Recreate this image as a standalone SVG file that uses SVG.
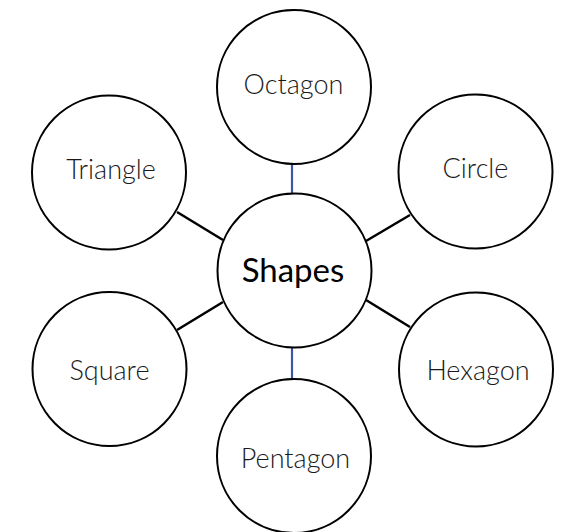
<svg xmlns="http://www.w3.org/2000/svg" width="566" height="532" viewBox="0 0 566 532">
<style>
.n{fill:#fff;stroke:#000;stroke-width:2}
.t{font-family:Lato,"Open Sans",sans-serif;font-weight:300;font-size:27px;fill:#1a1a1a;text-anchor:middle}
.m{font-family:Lato,"Open Sans",sans-serif;font-weight:400;font-size:33px;fill:#000;text-anchor:middle}
.c{stroke:#000;stroke-width:2.5}
.b{stroke:#3a56a5;stroke-width:2.2}
</style>
<rect width="566" height="532" fill="#fff"/>
<g id="connectors">
<line class="b" x1="292" y1="164" x2="292" y2="194"/>
<line class="b" x1="292" y1="347" x2="292" y2="379"/>
<line class="c" x1="177" y1="212" x2="223" y2="240"/>
<line class="c" x1="410" y1="215" x2="366" y2="241"/>
<line class="c" x1="177" y1="330" x2="223" y2="302"/>
<line class="c" x1="410" y1="327" x2="366" y2="300"/>
</g>
<g id="octagon"><circle class="n" cx="294" cy="87" r="77"/><text class="t" x="293.5" y="94">Octagon</text></g>
<g id="triangle"><circle class="n" cx="109" cy="172.5" r="77"/><text class="t" x="111" y="179">Triangle</text></g>
<g id="circle"><circle class="n" cx="475.5" cy="171.5" r="77"/><text class="t" x="475.5" y="178">Circle</text></g>
<g id="shapes"><circle class="n" cx="294.5" cy="270.5" r="77"/><text class="m" x="293" y="282">Shapes</text></g>
<g id="square"><circle class="n" cx="109.5" cy="369" r="77"/><text class="t" x="109.5" y="380">Square</text></g>
<g id="hexagon"><circle class="n" cx="476" cy="369.5" r="77"/><text class="t" x="478" y="380">Hexagon</text></g>
<g id="pentagon"><circle class="n" cx="294" cy="456" r="77"/><text class="t" x="295.5" y="468">Pentagon</text></g>
</svg>
